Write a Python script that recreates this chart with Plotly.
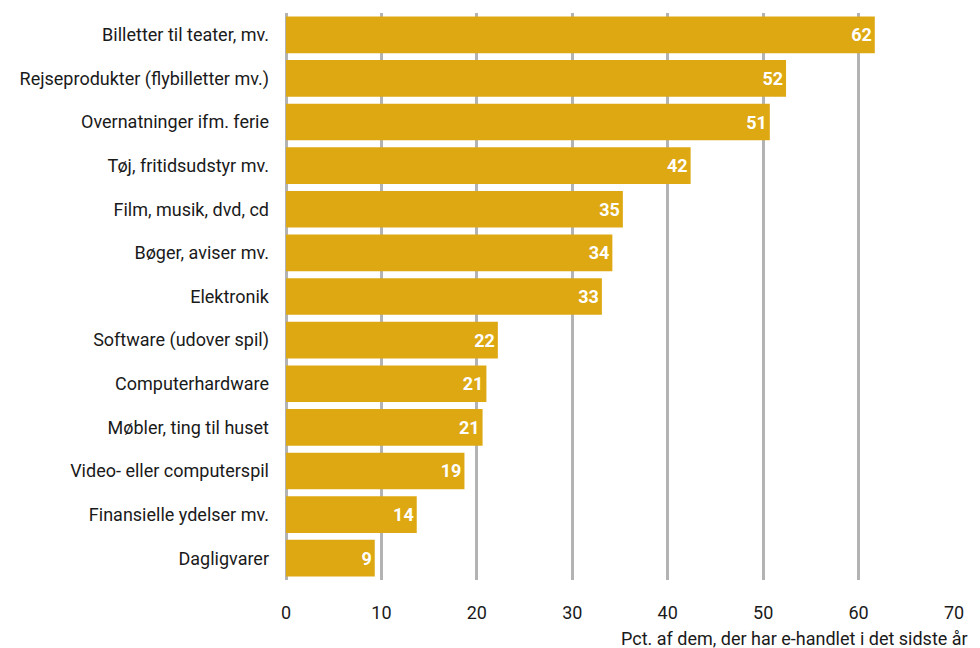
import plotly.graph_objects as go

categories = [
    "Billetter til teater, mv.",
    "Rejseprodukter (flybilletter mv.)",
    "Overnatninger ifm. ferie",
    "Tøj, fritidsudstyr mv.",
    "Film, musik, dvd, cd",
    "Bøger, aviser mv.",
    "Elektronik",
    "Software (udover spil)",
    "Computerhardware",
    "Møbler, ting til huset",
    "Video- eller computerspil",
    "Finansielle ydelser mv.",
    "Dagligvarer",
]
values = [61.7, 52.4, 50.7, 42.4, 35.3, 34.2, 33.1, 22.2, 21.0, 20.6, 18.7, 13.7, 9.3]
labels = ["62", "52", "51", "42", "35", "34", "33", "22", "21", "21", "19", "14", "9"]
tick_vals = [0, 10, 20, 30, 40, 50, 60, 70]
x_title = "Pct. af dem, der har e-handlet i det sidste år"

FONT = "Roboto, 'Noto Sans', sans-serif"

fig = go.Figure(go.Bar(
    x=values,
    y=categories,
    orientation="h",
    marker=dict(color="#DDA812", line=dict(width=0)),
    text=labels,
    textposition="inside",
    insidetextanchor="end",
    textfont=dict(family=FONT, size=18, color="white", weight="bold"),
    cliponaxis=False,
))

fig.update_layout(
    width=972, height=640,
    margin=dict(l=278, r=26, t=5, b=68),
    plot_bgcolor="white",
    paper_bgcolor="white",
    bargap=0.16,
    showlegend=False,
    font=dict(family=FONT, size=18, color="#1a1a1a"),
    annotations=[dict(
        text=x_title, xref="paper", yref="paper",
        x=1.024, xanchor="right", y=0, yanchor="top", yshift=-46,
        showarrow=False, font=dict(family=FONT, size=18, color="#1a1a1a"),
    )],
)
fig.update_xaxes(
    range=[0, 70], tickvals=tick_vals, showgrid=True,
    gridcolor="#b3b3b3", gridwidth=2.5, zeroline=True,
    zerolinecolor="#b3b3b3", zerolinewidth=2.5,
    showline=False, ticks="", tickfont=dict(size=18), ticklabelstandoff=20,
)
fig.update_yaxes(
    categoryorder="array", categoryarray=categories, autorange="reversed",
    showgrid=False, ticks="", tickfont=dict(size=18), ticklabelstandoff=16,
)

fig.write_html("out.html")
